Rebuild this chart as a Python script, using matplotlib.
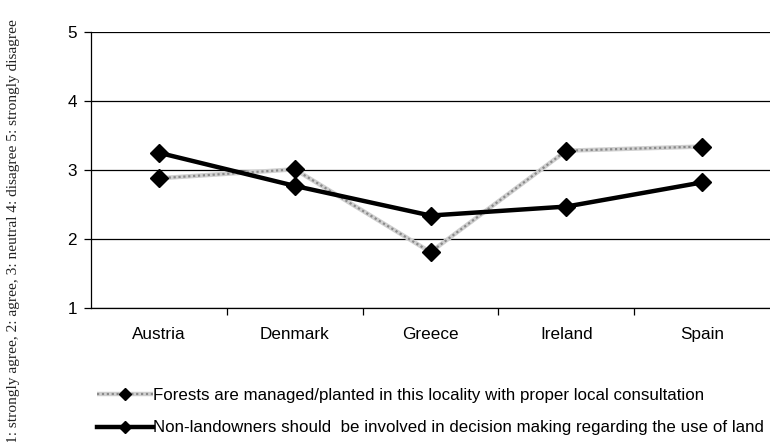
import numpy as np
import matplotlib
matplotlib.use('Agg')
import matplotlib.pyplot as plt
from matplotlib.legend_handler import HandlerTuple

# country means (1: strongly agree ... 5: strongly disagree)
countries = ['Austria', 'Denmark', 'Greece', 'Ireland', 'Spain']
consultation = [2.88, 3.01, 1.81, 3.28, 3.34]
involvement = [3.25, 2.77, 2.34, 2.47, 2.82]

label_consult = 'Forests are managed/planted in this locality with proper local consultation'
label_involve = 'Non-landowners should  be involved in decision making regarding the use of land'

plt.rcParams['font.family'] = ['Liberation Sans', 'DejaVu Sans']

fig = plt.figure(figsize=(7.7, 4.42), dpi=100)
ax = fig.add_axes([91 / 770, 1 - 308 / 442, 1 - 91 / 770, 276 / 442])

x = np.arange(len(countries))

# gray hatched line: light base + darker dotted overlay
g1, = ax.plot(x, consultation, color='#d0d0d0', lw=3.2, zorder=3, solid_capstyle='butt')
g2, = ax.plot(x, consultation, color='#8a8a8a', lw=1.6, ls=(0, (1, 1.2)), zorder=3)
gm, = ax.plot(x, consultation, ls='none', marker='D', ms=8.8, color='black', zorder=5)

b1, = ax.plot(x, involvement, color='black', lw=3.2, marker='D', ms=8.8, zorder=4)

ax.set_xlim(-0.5, 4.5)
ax.set_ylim(1, 5)
ax.set_yticks([1, 2, 3, 4, 5])
ax.yaxis.grid(True, color='black', lw=0.9)
ax.set_axisbelow(True)

ax.set_xticks(x)
ax.set_xticklabels(countries)
ax.set_xticks(np.arange(0.5, 4.5, 1), minor=True)
ax.tick_params(axis='x', which='major', length=0, pad=14, labelsize=12.3)
ax.tick_params(axis='x', which='minor', length=5, width=0.9, direction='out')
ax.tick_params(axis='y', length=5, width=0.9, pad=5, labelsize=12.3)

for s in ['top', 'right']:
    ax.spines[s].set_visible(False)
ax.spines['left'].set_linewidth(0.9)
ax.spines['bottom'].set_linewidth(0.9)

fig.text(0.017, 0.478, '1: strongly agree, 2: agree, 3: neutral 4: disagree 5: strongly disagree',
         rotation=90, va='center', ha='center', fontsize=11.1,
         family=['Liberation Serif', 'DejaVu Serif'], color='#222222')

lg1, = ax.plot([], [], color='black', marker='D', ms=6.5, ls='none')
lb, = ax.plot([], [], color='black', lw=3.2, marker='D', ms=6.5)
fig.legend([(g1, g2, lg1), lb], [label_consult, label_involve],
           handler_map={tuple: HandlerTuple(ndivide=1, pad=0)},
           loc='lower left', bbox_to_anchor=(85 / 770, -0.012), frameon=False,
           fontsize=12.2, handlelength=3.3, handletextpad=0.0, labelspacing=1.05,
           borderaxespad=0.3)

fig.savefig('out.png', dpi=100)
